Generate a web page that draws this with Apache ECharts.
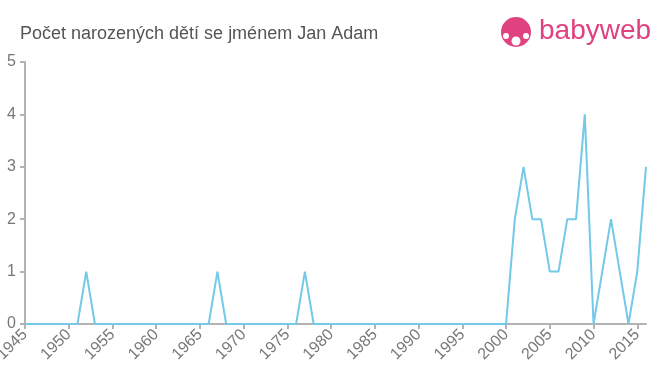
<!DOCTYPE html>
<html><head><meta charset="utf-8">
<script src="https://cdn.jsdelivr.net/npm/echarts@6/dist/echarts.min.js"></script>
<style>html,body{margin:0;padding:0;background:#fff}#c{width:660px;height:375px}</style>
</head><body><div id="c"></div>
<script>
const years = [];
for (let y = 1945; y <= 2016; y++) years.push(y);
const nonZero = {1952:1, 1967:1, 1977:1, 2001:2, 2002:3, 2003:2, 2004:2, 2005:1, 2006:1, 2007:2, 2008:2, 2009:4, 2010:0, 2011:1, 2012:2, 2013:1, 2014:0, 2015:1, 2016:3};
const counts = years.map(y => nonZero[y] || 0);
const title = "Počet narozených dětí se jménem Jan Adam";

const chart = echarts.init(document.getElementById('c'));
chart.setOption({
  animation: false,
  title: {text: title, left: 15, top: 20, textStyle: {fontFamily: 'Arial, Liberation Sans', fontSize: 18, fontWeight: 'normal', color: '#555'}},
  grid: {left: 25, right: 14, top: 62, bottom: 51, outerBoundsMode: 'none', containLabel: false},
  xAxis: {
    type: 'value', min: 1945, max: 2016, interval: 5,
    axisLine: {lineStyle: {color: '#b3b3b3', width: 2}},
    axisTick: {show: true, length: 5, lineStyle: {color: '#b3b3b3', width: 2}},
    splitLine: {show: false},
    axisLabel: {rotate: 45, color: '#777', fontSize: 16, fontFamily: 'Arial, Liberation Sans', margin: 8, showMaxLabel: false, formatter: v => String(v)}
  },
  yAxis: {
    type: 'value', min: 0, max: 5, interval: 1,
    axisLine: {show: true, lineStyle: {color: '#b3b3b3', width: 2}},
    axisTick: {show: true, length: 5, lineStyle: {color: '#b3b3b3', width: 2}},
    splitLine: {show: false},
    axisLabel: {color: '#777', fontSize: 16, fontFamily: 'Arial, Liberation Sans', margin: 9}
  },
  series: [{
    type: 'line', data: years.map((y, i) => [y, counts[i]]),
    showSymbol: false, symbol: 'none',
    lineStyle: {color: '#74c9e8', width: 2}
  }],
  graphic: [
    {type: 'circle', shape: {cx: 516, cy: 32, r: 15}, style: {fill: '#e0427f'}},
    {type: 'circle', shape: {cx: 516, cy: 41, r: 4.5}, style: {fill: '#fff'}},
    {type: 'circle', shape: {cx: 506, cy: 36, r: 3}, style: {fill: '#fff'}},
    {type: 'circle', shape: {cx: 526, cy: 36, r: 3}, style: {fill: '#fff'}},
    {type: 'text', left: 539, top: 17, style: {text: 'babyweb', fill: '#e0427f', fontSize: 28, fontFamily: 'Arial, Liberation Sans'}}
  ]
});
</script></body></html>
